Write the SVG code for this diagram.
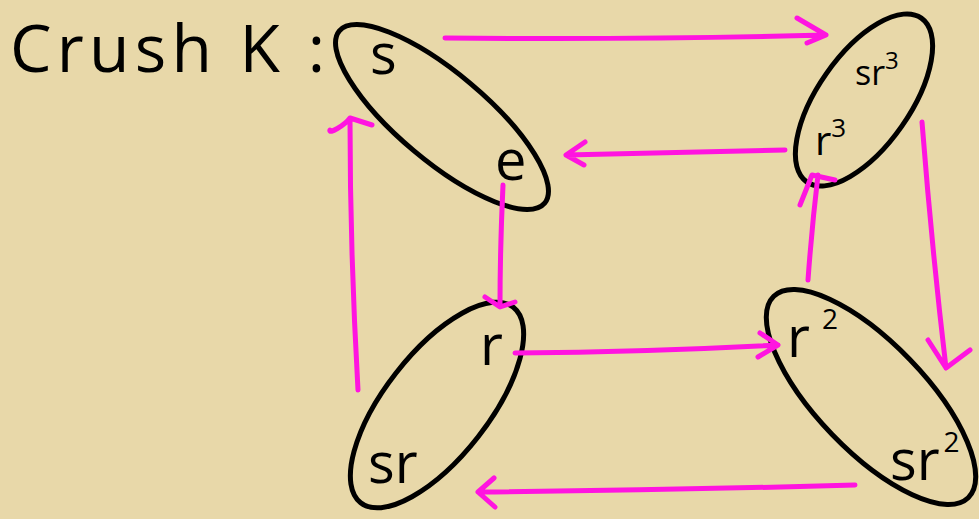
<svg xmlns="http://www.w3.org/2000/svg" width="979" height="519" viewBox="0 0 979 519">
<style>
.bg{fill:#e8d8a9}
.blob{fill:none;stroke:#000;stroke-width:5}
.arr{fill:none;stroke:#ff14e0;stroke-width:5;stroke-linecap:round;stroke-linejoin:round}
.t{font-family:"Open Sans","DejaVu Sans",sans-serif;fill:#000}
</style>
<rect class="bg" x="0" y="0" width="979" height="519"/>
<text class="t" x="10" y="72" font-size="66" textLength="315" lengthAdjust="spacing">Crush K :</text>
<g id="node-s-e">
<ellipse class="blob" cx="442" cy="117" rx="134" ry="44" transform="rotate(40 442 117)"/>
<text class="t" x="370" y="74" font-size="56">s</text>
<text class="t" x="495" y="180" font-size="56">e</text>
</g>
<g id="node-sr3-r3">
<ellipse class="blob" cx="864" cy="100" rx="100" ry="46" transform="rotate(-55 864 100)"/>
<text class="t" x="855" y="85" font-size="34">sr<tspan font-size="24" dy="-16">3</tspan></text>
<text class="t" x="815" y="155" font-size="40">r<tspan font-size="26" dy="-18">3</tspan></text>
</g>
<g id="node-r-sr">
<ellipse class="blob" cx="437" cy="405" rx="124" ry="52" transform="rotate(-52 437 405)"/>
<text class="t" x="480" y="365" font-size="56">r</text>
<text class="t" x="368" y="483" font-size="56">sr</text>
</g>
<g id="node-r2-sr2">
<ellipse class="blob" cx="871" cy="397" rx="140" ry="54" transform="rotate(46 871 397)"/>
<text class="t" x="787" y="357" font-size="56">r<tspan font-size="28" dy="-28" dx="12">2</tspan></text>
<text class="t" x="890" y="480" font-size="56">sr<tspan font-size="28" dy="-28" dx="4">2</tspan></text>
</g>
<g id="connectors">
<path class="arr" d="M445 38 Q640 40 826 35 M797 18 L826 35 L807 43"/>
<path class="arr" d="M785 150 Q680 152 566 155 M585 142 L566 155 L584 165"/>
<path class="arr" d="M358 390 Q350 250 350 120 M330 130 C328 135 345 125 350 118 L372 125"/>
<path class="arr" d="M503 185 Q500 250 500 305 M485 297 L500 307 L515 302"/>
<path class="arr" d="M808 280 Q812 225 818 175 M800 205 L812 175 L835 180"/>
<path class="arr" d="M922 122 Q932 250 946 368 M928 340 L946 368 L970 350"/>
<path class="arr" d="M515 353 Q650 352 778 345 M760 333 L778 345 L758 357"/>
<path class="arr" d="M855 485 Q680 490 478 492 M494 478 L478 492 L495 507"/>
</g>
</svg>
